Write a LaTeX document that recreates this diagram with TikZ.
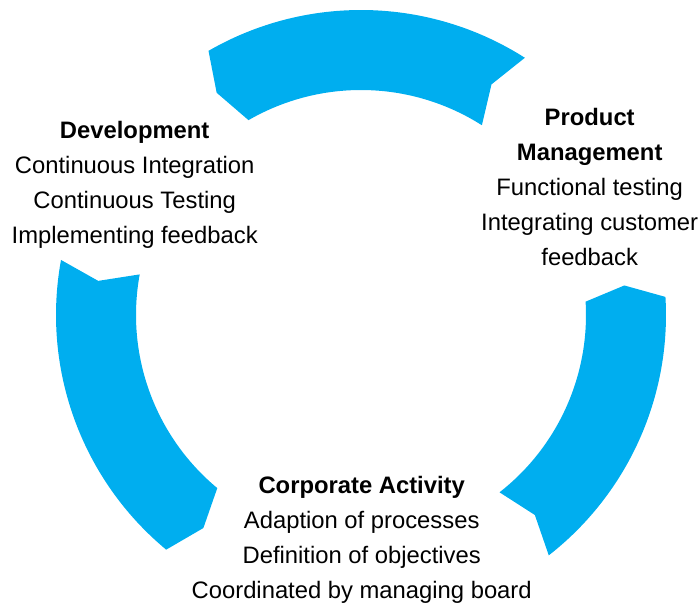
\documentclass[tikz,border=0pt]{standalone}
\usepackage{fontspec}
\setmainfont{Liberation Sans}
\definecolor{cyclecyan}{HTML}{00AEEF}

\begin{document}
\begin{tikzpicture}[x=1pt,y=1pt,
  band/.style={fill=cyclecyan, draw=none},
  phase/.style={align=center, inner sep=0pt, anchor=base, font=\fontsize{23.8}{34.8}\selectfont}]
\useasboundingbox (-361,-293) rectangle (339,315);
\fill[band] (-52:305) arc[start angle=-52, end angle=3.4, radius=305] -- (6.4:265) -- (3.4:225) arc[start angle=3.4, end angle=-52, radius=225] -- (-49:265) -- cycle;
\fill[band] (57.5:305) arc[start angle=57.5, end angle=120, radius=305] -- (123:265) -- (120:225) arc[start angle=120, end angle=57.5, radius=225] -- (60.5:265) -- cycle;
\fill[band] (169.6:305) arc[start angle=169.6, end angle=230.3, radius=305] -- (233.5:265) -- (230.3:225) arc[start angle=230.3, end angle=169.6, radius=225] -- (172.6:265) -- cycle;
\node[phase] (dev) at (-226.3,71.7) {\textbf{Development}\\Continuous Integration\\Continuous Testing\\Implementing feedback};
\node[phase] (prod) at (228.7,50) {\textbf{Product}\\\textbf{Management}\\Functional testing\\Integrating customer\\feedback};
\node[phase] (corp) at (0.7,-283) {\textbf{Corporate Activity}\\Adaption of processes\\Definition of objectives\\Coordinated by managing board};
\end{tikzpicture}
\end{document}
